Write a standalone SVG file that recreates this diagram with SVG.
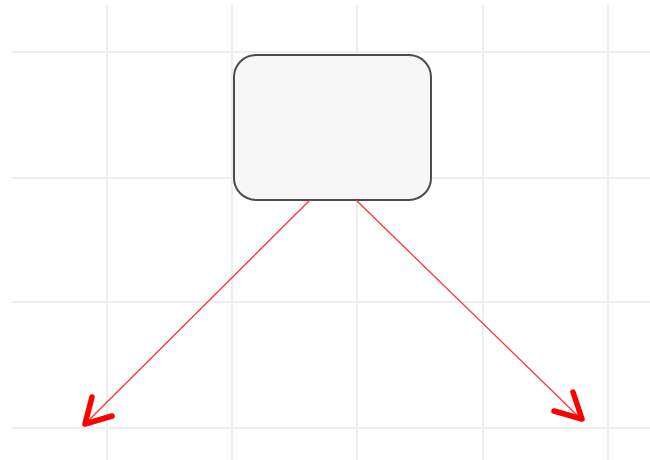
<svg xmlns="http://www.w3.org/2000/svg" width="650" height="460" viewBox="0 0 650 460">
<style>
.grid{stroke:#eeeeee;stroke-width:2;fill:none}
.node{fill:#f7f7f7;stroke:#4d4d4d;stroke-width:2}
.edge{stroke:#ff3333;stroke-width:1.3;fill:none}
.head{stroke:#ff0000;stroke-width:5.5;fill:none;stroke-linecap:round;stroke-linejoin:round}
</style>
<rect width="650" height="460" fill="#ffffff"/>
<g id="grid">
<path class="grid" d="M107 5V460M232 5V460M357 5V460M483 5V460M608 5V460M12 52H650M12 178H650M12 302H650M12 428H650"/>
</g>
<g id="node1">
<rect class="node" x="234" y="55" width="197" height="145" rx="22" ry="22"/>
</g>
<g id="connectors">
<path class="edge" d="M310 200L85 424"/>
<path class="head" d="M92 397L85 424L112 416"/>
<path class="edge" d="M356 200L582 420"/>
<path class="head" d="M573 392L582 419L554 411"/>
</g>
</svg>
